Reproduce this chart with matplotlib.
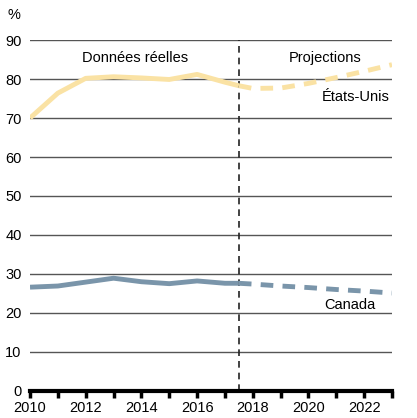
import numpy as np
import matplotlib.pyplot as plt

plt.rcParams['font.family'] = ['Liberation Sans', 'DejaVu Sans']

# actual data (to mid-2017) and projections
years_actual = [2010, 2011, 2012, 2013, 2014, 2015, 2016, 2017, 2017.5]
years_proj = [2017.5, 2018, 2019, 2020, 2021, 2022, 2023]

us_actual = [70.0, 76.4, 80.2, 80.6, 80.3, 79.9, 81.2, 79.2, 78.3]
us_proj = [78.3, 77.6, 77.7, 78.9, 80.4, 82.0, 83.7]

can_actual = [26.6, 26.9, 27.9, 28.9, 28.0, 27.5, 28.2, 27.6, 27.6]
can_proj = [27.6, 27.4, 26.9, 26.5, 26.0, 25.6, 25.1]

us_color = '#FAE2A4'
can_color = '#7A95AA'

fig = plt.figure(figsize=(4.17, 4.18), dpi=100)
ax = fig.add_axes([0.072, 0.065, 0.868, 0.839])

for y in range(10, 100, 10):
    ax.axhline(y, color='#555555', lw=1, zorder=1)

ax.plot(years_actual, us_actual, color=us_color, lw=3.5, solid_capstyle='butt',
        solid_joinstyle='round', zorder=3)
ax.plot(years_proj, us_proj, color=us_color, lw=3.5, dashes=(2.6, 1.9), zorder=3)
ax.plot(years_actual, can_actual, color=can_color, lw=3.5, solid_capstyle='butt',
        solid_joinstyle='round', zorder=3)
ax.plot(years_proj, can_proj, color=can_color, lw=3.5, dashes=(2.6, 1.9), zorder=3)

ax.axvline(2017.5, color='#222222', lw=1.2, dashes=(4, 3), zorder=2)

ax.text(2013.77, 85.5, 'Données réelles', ha='center', va='center', fontsize=10.5)
ax.text(2020.6, 85.4, 'Projections', ha='center', va='center', fontsize=10.5)
ax.text(2022.9, 75.3, 'États-Unis', ha='right', va='center', fontsize=10.5)
ax.text(2022.4, 21.9, 'Canada', ha='right', va='center', fontsize=10.5)

ax.set_xlim(2010, 2023)
ax.set_ylim(0, 90)
ax.set_yticks(range(0, 100, 10))
ax.set_xticks(range(2010, 2024))
ax.set_xticklabels([str(y) if y % 2 == 0 else '' for y in range(2010, 2024)])
ax.tick_params(axis='y', length=0, labelsize=10.5, pad=6)
ax.tick_params(axis='x', length=5, width=2.5, labelsize=10.5, pad=2)

for s in ['left', 'right', 'top']:
    ax.spines[s].set_visible(False)
ax.spines['bottom'].set_linewidth(3)
ax.spines['bottom'].set_zorder(4)

fig.text(0.018, 0.963, '%', fontsize=10.5, ha='left', va='center')

fig.savefig('out.png', dpi=100)
